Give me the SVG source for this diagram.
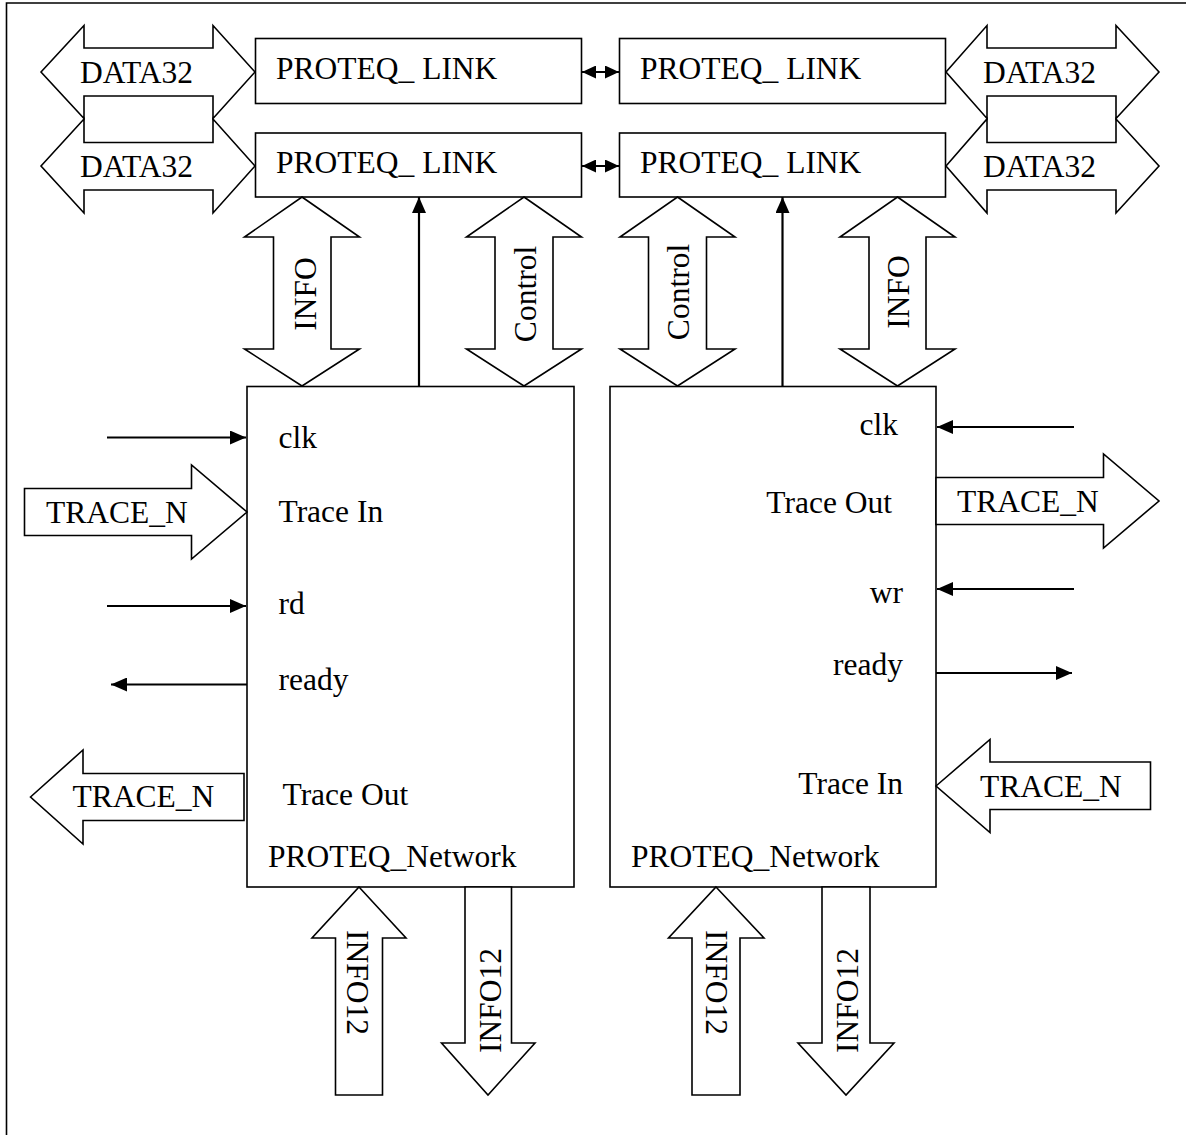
<svg xmlns="http://www.w3.org/2000/svg" width="1186" height="1135" viewBox="0 0 1186 1135">
<style>
text{font-family:"Liberation Serif","Times New Roman",serif;font-size:31.5px;fill:#000}
.box{fill:#fff;stroke:#000;stroke-width:1.6}
.bus{fill:#fff;stroke:#000;stroke-width:1.6;stroke-linejoin:miter}
.sig{fill:none;stroke:#000;stroke-width:2.2}
.frame{fill:none;stroke:#000;stroke-width:1.6}
.mid{text-anchor:middle}
.end{text-anchor:end}
</style>
<defs>
<marker id="ah" viewBox="0 0 16 14" refX="16" refY="7" markerWidth="16" markerHeight="14" markerUnits="userSpaceOnUse" orient="auto">
<path d="M0,0 L16,7 L0,14 Z" fill="#000"/>
</marker>
<marker id="ahs" viewBox="0 0 14 13" refX="14" refY="6.5" markerWidth="14" markerHeight="13" markerUnits="userSpaceOnUse" orient="auto-start-reverse">
<path d="M0,0 L14,6.5 L0,13 Z" fill="#000"/>
</marker>
</defs>
<rect width="1186" height="1135" fill="#fff"/>
<path class="frame" d="M6.5,1135 V3 H1186"/>

<g id="link-left-1"><rect class="box" x="255.5" y="38.5" width="326" height="65"/><text x="276" y="79">PROTEQ_ LINK</text></g>
<g id="link-left-2"><rect class="box" x="255.5" y="133" width="326" height="64"/><text x="276" y="173">PROTEQ_ LINK</text></g>
<g id="link-right-1"><rect class="box" x="619.5" y="38.5" width="326" height="65"/><text x="640" y="79">PROTEQ_ LINK</text></g>
<g id="link-right-2"><rect class="box" x="619.5" y="133" width="326" height="64"/><text x="640" y="173">PROTEQ_ LINK</text></g>

<g id="network-left">
<rect class="box" x="247" y="386.5" width="327" height="500.5"/>
<text x="278.5" y="448">clk</text>
<text x="278.5" y="522">Trace In</text>
<text x="278.5" y="614">rd</text>
<text x="278.5" y="690">ready</text>
<text x="282.5" y="805">Trace Out</text>
<text x="268" y="867">PROTEQ_Network</text>
</g>
<g id="network-right">
<rect class="box" x="610" y="386.5" width="326" height="500.5"/>
<text class="end" x="898" y="435">clk</text>
<text class="end" x="892" y="513">Trace Out</text>
<text class="end" x="903" y="603">wr</text>
<text class="end" x="903" y="675">ready</text>
<text class="end" x="903" y="794">Trace In</text>
<text x="631" y="867">PROTEQ_Network</text>
</g>

<g id="connectors">
<g id="data-buses">
<polygon class="bus" points="41,72 84,25.5 84,48 213,48 213,25.5 255,72 213,118.5 213,96 84,96 84,118.5"/>
<text x="80" y="82.5">DATA32</text>
<polygon class="bus" points="41,166 84,119 84,142.5 213,142.5 213,119 255,166 213,213 213,190 84,190 84,213"/>
<text x="80" y="177">DATA32</text>
<polygon class="bus" points="946,72 987,25.5 987,48 1116,48 1116,25.5 1159,72 1116,118.5 1116,96 987,96 987,118.5"/>
<text x="983" y="82.5">DATA32</text>
<polygon class="bus" points="946,166 987,119 987,142.5 1116,142.5 1116,119 1159,166 1116,213 1116,190 987,190 987,213"/>
<text x="983" y="177">DATA32</text>
</g>
<g id="link-links">
<line class="sig" x1="582" y1="72" x2="619" y2="72" marker-start="url(#ahs)" marker-end="url(#ahs)"/>
<line class="sig" x1="582" y1="166" x2="619" y2="166" marker-start="url(#ahs)" marker-end="url(#ahs)"/>
</g>
<g id="vertical-buses">
<polygon class="bus" points="302,197 359.5,237 331,237 331,349 359.5,349 302,386 244.5,349 273.5,349 273.5,237 244.5,237"/>
<text class="mid" transform="translate(316,294) rotate(-90)">INFO</text>
<polygon class="bus" points="524,197 581.5,237 553,237 553,349 581.5,349 524,386 466.5,349 495,349 495,237 466.5,237"/>
<text class="mid" transform="translate(536,294) rotate(-90)">Control</text>
<polygon class="bus" points="677.5,197 735,237 706.5,237 706.5,349 735,349 677.5,386 620,349 648.5,349 648.5,237 620,237"/>
<text class="mid" transform="translate(689,292) rotate(-90)">Control</text>
<polygon class="bus" points="897.5,197 955,237 926,237 926,349 955,349 897.5,386 840,349 869,349 869,237 840,237"/>
<text class="mid" transform="translate(909,292) rotate(-90)">INFO</text>
<line class="sig" x1="419" y1="386" x2="419" y2="197" marker-end="url(#ah)"/>
<line class="sig" x1="782.5" y1="386" x2="782.5" y2="197" marker-end="url(#ah)"/>
</g>
<g id="signals">
<line class="sig" x1="107" y1="437.5" x2="246" y2="437.5" marker-end="url(#ah)"/>
<line class="sig" x1="107" y1="606" x2="246" y2="606" marker-end="url(#ah)"/>
<line class="sig" x1="247" y1="684.5" x2="111" y2="684.5" marker-end="url(#ah)"/>
<line class="sig" x1="1074" y1="427" x2="937" y2="427" marker-end="url(#ah)"/>
<line class="sig" x1="1074" y1="589" x2="937" y2="589" marker-end="url(#ah)"/>
<line class="sig" x1="936" y1="673" x2="1072" y2="673" marker-end="url(#ah)"/>
</g>
<g id="trace-buses">
<polygon class="bus" points="24.5,488.5 191.5,488.5 191.5,465 247,512 191.5,559 191.5,535.5 24.5,535.5"/>
<text x="46" y="523">TRACE_N</text>
<polygon class="bus" points="30.5,797 83,750 83,773.5 244,773.5 244,820.5 83,820.5 83,844"/>
<text x="72.5" y="807">TRACE_N</text>
<polygon class="bus" points="936,477.5 1103.5,477.5 1103.5,454 1159,501 1103.5,548 1103.5,524.5 936,524.5"/>
<text x="957" y="512">TRACE_N</text>
<polygon class="bus" points="936,786 990,739.5 990,762 1150.5,762 1150.5,809.5 990,809.5 990,832.5"/>
<text x="980" y="797">TRACE_N</text>
</g>
<g id="info12-buses">
<polygon class="bus" points="359,887 406,938 382.5,938 382.5,1095 335.5,1095 335.5,938 312,938"/>
<text transform="translate(346.5,930) rotate(90)">INFO12</text>
<polygon class="bus" points="465,887 511.5,887 511.5,1043 535,1043 488,1095 441.5,1043 465,1043"/>
<text transform="translate(500.5,1053) rotate(-90)">INFO12</text>
<polygon class="bus" points="716,887 764,938 740,938 740,1095 692,1095 692,938 668.5,938"/>
<text transform="translate(705.5,930) rotate(90)">INFO12</text>
<polygon class="bus" points="822,887 870,887 870,1043 894,1043 846,1095 798,1043 822,1043"/>
<text transform="translate(857.5,1053) rotate(-90)">INFO12</text>
</g>
</g>
</svg>
